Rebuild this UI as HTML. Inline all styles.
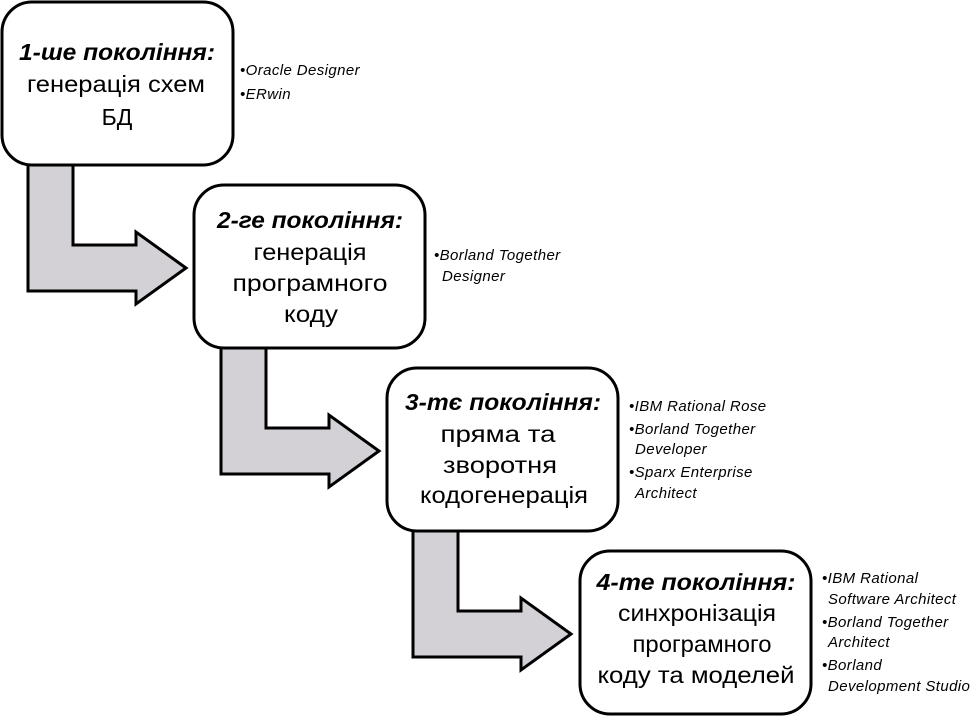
<!DOCTYPE html>
<html><head><meta charset="utf-8"><style>
html,body{margin:0;padding:0;background:#fff;}
svg{display:block;}
.t{font-family:"Liberation Sans",sans-serif;font-size:23px;fill:#000;}
.b{font-weight:bold;font-style:italic;}
.s{font-family:"Liberation Sans",sans-serif;font-size:15px;letter-spacing:0.4px;font-style:italic;fill:#000;}
</style></head><body>
<svg width="974" height="716" viewBox="0 0 974 716" xmlns="http://www.w3.org/2000/svg">
<defs>
<polygon id="arr" points="26,160 71,160 71,243 134,243 134,230 184,266 134,302 134,289 26,289" fill="#d3d1d6" stroke="#000" stroke-width="3" stroke-linejoin="miter"/>
<rect id="box" x="0" y="0" width="231" height="163" rx="30" ry="30" fill="#fff" stroke="#000" stroke-width="3"/>
</defs>
<use href="#arr" x="2" y="2"/>
<use href="#arr" x="195" y="185"/>
<use href="#arr" x="387" y="368"/>
<use href="#box" x="2" y="2"/>
<use href="#box" x="194" y="185"/>
<use href="#box" x="387" y="368"/>
<use href="#box" x="580" y="551"/>

<g class="t" text-anchor="middle">
<text class="t b" x="117" y="60" textLength="196" lengthAdjust="spacingAndGlyphs">1-ше покоління:</text>
<text x="116" y="92" textLength="178" lengthAdjust="spacingAndGlyphs">генерація схем</text>
<text x="117" y="125">БД</text>

<text class="t b" x="310" y="228" textLength="186" lengthAdjust="spacingAndGlyphs">2-ге покоління:</text>
<text x="310" y="260" textLength="113" lengthAdjust="spacingAndGlyphs">генерація</text>
<text x="310" y="291" textLength="155" lengthAdjust="spacingAndGlyphs">програмного</text>
<text x="311" y="322" textLength="54" lengthAdjust="spacingAndGlyphs">коду</text>

<text class="t b" x="503" y="410" textLength="196" lengthAdjust="spacingAndGlyphs">3-тє покоління:</text>
<text x="498" y="442" textLength="115" lengthAdjust="spacingAndGlyphs">пряма та</text>
<text x="500" y="473" textLength="114" lengthAdjust="spacingAndGlyphs">зворотня</text>
<text x="504" y="503" textLength="168" lengthAdjust="spacingAndGlyphs">кодогенерація</text>

<text class="t b" x="696" y="590" textLength="199" lengthAdjust="spacingAndGlyphs">4-те покоління:</text>
<text x="697" y="621" textLength="158" lengthAdjust="spacingAndGlyphs">синхронізація</text>
<text x="702" y="652" textLength="139" lengthAdjust="spacingAndGlyphs">програмного</text>
<text x="696" y="683" textLength="197" lengthAdjust="spacingAndGlyphs">коду та моделей</text>
</g>

<g class="s">
<text x="240" y="75">•Oracle Designer</text>
<text x="240" y="99">•ERwin</text>

<text x="434" y="260">•Borland Together</text>
<text x="442" y="281">Designer</text>

<text x="629" y="411">•IBM Rational  Rose</text>
<text x="629" y="434">•Borland Together</text>
<text x="635" y="454">Developer</text>
<text x="629" y="477">•Sparx Enterprise</text>
<text x="635" y="498">Architect</text>

<text x="822" y="583">•IBM Rational</text>
<text x="828" y="604">Software Architect</text>
<text x="822" y="627">•Borland Together</text>
<text x="828" y="647">Architect</text>
<text x="822" y="670">•Borland</text>
<text x="828" y="691">Development Studio</text>
</g>
</svg>
</body></html>
